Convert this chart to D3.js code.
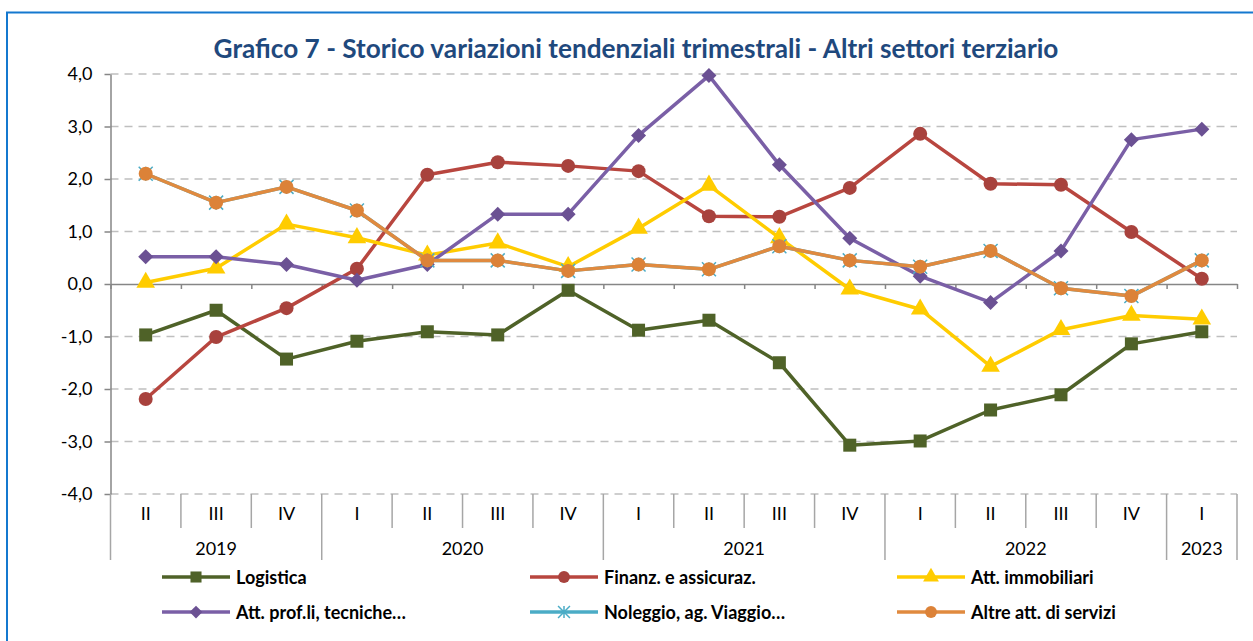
<!DOCTYPE html>
<html>
<head>
<meta charset="utf-8">
<script src="https://cdn.jsdelivr.net/npm/d3@7"></script>
<style>
  body { margin: 0; background: #fff; }
  svg text { font-family: Lato, "Open Sans", sans-serif; }
</style>
</head>
<body>
<div id="chart"></div>
<script>
// Data
const quarters = ['II', 'III', 'IV', 'I', 'II', 'III', 'IV', 'I', 'II', 'III', 'IV', 'I', 'II', 'III', 'IV', 'I'];
const yearLabels = ['2019', '2020', '2021', '2022', '2023'];
const yearSpans = [3, 4, 4, 4, 1];
const yTicks = [-4, -3, -2, -1, 0, 1, 2, 3, 4];

const logistica = [-0.97, -0.50, -1.43, -1.09, -0.91, -0.97, -0.12, -0.88, -0.69, -1.50, -3.07, -2.99, -2.40, -2.11, -1.14, -0.91];
const finanz = [-2.19, -1.01, -0.46, 0.29, 2.08, 2.32, 2.25, 2.15, 1.29, 1.28, 1.83, 2.86, 1.91, 1.89, 0.99, 0.10];
const immobiliari = [0.03, 0.30, 1.14, 0.88, 0.55, 0.78, 0.33, 1.06, 1.88, 0.88, -0.10, -0.48, -1.57, -0.87, -0.60, -0.67];
const profli = [0.52, 0.52, 0.37, 0.07, 0.37, 1.33, 1.33, 2.83, 3.97, 2.27, 0.87, 0.15, -0.35, 0.63, 2.75, 2.95];
const noleggio = [2.10, 1.55, 1.85, 1.40, 0.45, 0.45, 0.25, 0.37, 0.28, 0.72, 0.45, 0.33, 0.63, -0.08, -0.23, 0.45];
const altre = [2.10, 1.55, 1.85, 1.40, 0.45, 0.45, 0.25, 0.37, 0.28, 0.72, 0.45, 0.33, 0.63, -0.08, -0.23, 0.45];

const series = [
    { name: 'Logistica', values: logistica, color: '#4F6228', mark: '#4F6228', shape: 'square' },
    { name: 'Finanz. e assicuraz.', values: finanz, color: '#B8463F', mark: '#A8423D', shape: 'circle' },
    { name: 'Att. immobiliari', values: immobiliari, color: '#FFCC00', mark: '#FFCC00', shape: 'triangle' },
    { name: 'Att. prof.li, tecniche…', values: profli, color: '#7A5FA6', mark: '#6B5193', shape: 'diamond' },
    { name: 'Noleggio, ag. Viaggio…', values: noleggio, color: '#4BACC6', mark: '#4BACC6', shape: 'star' },
    { name: 'Altre att. di servizi', values: altre, color: '#E08A3F', mark: '#DC8238', shape: 'circle' }
];

const W = 1253, H = 641;
const svg = d3.select('#chart').append('svg').attr('width', W).attr('height', H);

// outer frame
svg.append('rect').attr('x', 7).attr('y', 12.5).attr('width', W + 20).attr('height', H + 20)
    .attr('fill', 'none').attr('stroke', '#1478CF').attr('stroke-width', 2);

const x0 = 110.5, x1 = 1237;
const xb = d3.scaleLinear().domain([0, quarters.length]).range([x0, x1]);
const xc = i => xb(i + 0.5);
const y = d3.scaleLinear().domain([-4, 4]).range([494, 74]);

// title
const title = svg.append('text')
    .attr('x', 636).attr('y', 58)
    .attr('text-anchor', 'middle')
    .attr('font-size', 20).attr('font-weight', 'bold').attr('fill', '#1F497D')
    .text('Grafico 7 - Storico variazioni tendenziali trimestrali - Altri settori terziario');
const tw = title.node().getComputedTextLength();
title.attr('font-size', 20 * 845 / tw);

// gridlines
svg.append('g').selectAll('line')
    .data(yTicks.filter(d => d !== 0))
    .enter().append('line')
    .attr('x1', x0).attr('x2', x1)
    .attr('y1', d => y(d)).attr('y2', d => y(d))
    .attr('stroke', '#BFBFBF').attr('stroke-width', 1.5).attr('stroke-dasharray', '8,6');

// y axis
const yAxis = svg.append('g')
    .attr('transform', `translate(${x0},0)`)
    .call(d3.axisLeft(y).tickValues(yTicks).tickSize(6).tickSizeOuter(0)
        .tickFormat(d => d3.format('.1f')(d).replace('.', ',').replace('−', '-')));
yAxis.select('.domain').attr('stroke', '#868686').attr('stroke-width', 1.5);
yAxis.selectAll('.tick line').attr('stroke', '#868686').attr('stroke-width', 1.5);
yAxis.selectAll('.tick text').attr('font-size', 18).attr('fill', '#000').attr('x', -18)
    .attr('font-family', 'Lato, sans-serif');

// zero axis with small ticks
const zAxis = svg.append('g')
    .attr('transform', `translate(0,${y(0)})`)
    .call(d3.axisBottom(xb).tickValues(d3.range(0, quarters.length + 1)).tickSize(5).tickSizeOuter(0).tickFormat(''));
zAxis.select('.domain').attr('stroke', '#868686').attr('stroke-width', 1.5);
zAxis.selectAll('.tick line').attr('stroke', '#868686').attr('stroke-width', 1.5);

// category separators at the bottom
const yearBounds = [0];
yearSpans.forEach(n => yearBounds.push(yearBounds[yearBounds.length - 1] + n));
const bottom = svg.append('g').attr('transform', `translate(0,${y(-4)})`);
bottom.selectAll('line')
    .data(d3.range(0, quarters.length + 1))
    .enter().append('line')
    .attr('x1', d => xb(d)).attr('x2', d => xb(d))
    .attr('y1', 0).attr('y2', d => yearBounds.includes(d) ? 66 : 34)
    .attr('stroke', '#A6A6A6').attr('stroke-width', 1.5);

bottom.selectAll('.q')
    .data(quarters)
    .enter().append('text')
    .attr('x', (d, i) => xc(i)).attr('y', 26)
    .attr('text-anchor', 'middle').attr('font-size', 18).attr('fill', '#000')
    .text(d => d);

bottom.selectAll('.yr')
    .data(yearLabels)
    .enter().append('text')
    .attr('x', (d, i) => (xb(yearBounds[i]) + xb(yearBounds[i + 1])) / 2).attr('y', 61)
    .attr('text-anchor', 'middle').attr('font-size', 18).attr('fill', '#000')
    .text(d => d);

// marker drawing
function drawMarker(g, shape, color, s) {
    if (shape === 'square') {
        g.append('rect').attr('x', -6.5 * s).attr('y', -6.5 * s).attr('width', 13 * s).attr('height', 13 * s).attr('fill', color);
    } else if (shape === 'circle') {
        g.append('circle').attr('r', 7 * s).attr('fill', color);
    } else if (shape === 'triangle') {
        g.append('path').attr('d', d3.symbol().type(d3.symbolTriangle).size(150 * s * s)).attr('fill', color);
    } else if (shape === 'diamond') {
        const r = 7.5 * s;
        g.append('path').attr('d', `M0,${-r}L${r},0L0,${r}L${-r},0Z`).attr('fill', color);
    } else if (shape === 'star') {
        const r = 7 * s;
        g.append('path').attr('d', `M${-r},${-r}L${r},${r}M${-r},${r}L${r},${-r}M0,${-r}L0,${r}`)
            .attr('stroke', color).attr('stroke-width', 1.5).attr('fill', 'none');
    }
}

const line = d3.line().x((d, i) => xc(i)).y(d => y(d));

series.forEach(s => {
    const g = svg.append('g');
    g.append('path').datum(s.values)
        .attr('d', line)
        .attr('fill', 'none').attr('stroke', s.color).attr('stroke-width', 3.5).attr('stroke-linejoin', 'round');
    s.values.forEach((v, i) => {
        const m = g.append('g').attr('transform', `translate(${xc(i)},${y(v)})`);
        drawMarker(m, s.shape, s.mark, 1);
    });
});

// legend
const legX = [162, 530, 897];
const legY = [577, 612];
series.forEach((s, i) => {
    const lx = legX[i % 3], ly = legY[Math.floor(i / 3)];
    const g = svg.append('g').attr('transform', `translate(${lx},${ly})`);
    g.append('line').attr('x1', 0).attr('x2', 68).attr('y1', 0).attr('y2', 0)
        .attr('stroke', s.color).attr('stroke-width', 3.5);
    const m = g.append('g').attr('transform', 'translate(34,0)');
    drawMarker(m, s.shape, s.mark, 0.85);
    g.append('text').attr('x', 74).attr('y', 6.5)
        .attr('font-size', 18).attr('font-weight', 'bold').attr('fill', '#000')
        .text(s.name);
});
</script>
</body>
</html>
